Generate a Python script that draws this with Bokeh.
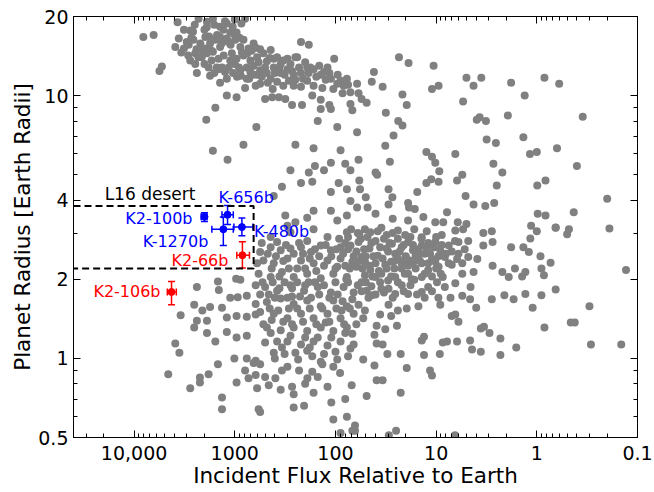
from bokeh.plotting import figure
from bokeh.models import Range1d, FixedTicker, LogAxis, ColumnDataSource, Whisker, TeeHead
from bokeh.embed import file_html
from bokeh.resources import INLINE
from bokeh.core.properties import value

# ---------------- data ----------------
# hot Jupiters / large planets (upper band)
giant_flux = [8100,6400,5300,5600,3700,2770,2290,1890,1650,1400,1250,1050,960,790,3600,3900,3200,2870,2580,2200,
              1960,1760,1560,1400,1200,1100,990,880,820,730,650,2770,2470,2130,1890,1650,1450,1290,1110,960,
              820,700,600,520,440,380,330,280,240,2380,1760,1400,1200,1040,880,760,650,560,480,410,
              350,300,260,220,191,165,140,120,103,89,77,790,620,560,440,380,330,260,220,191,
              165,135,111,96,83,71,1200,960,500,425,365,315,270,215,170,140,115,140,111,71,
              68,220,184,250,178,130,1560,1920,610,820,1650,1180,250,165,89,96,150,280,184,130,
              160,111,80,71,340,220,170,111,93,77,71,410,315,191,165,111,96,77,300,250,
              1960,1700,1340,1070,910,700,580,500,410,350,290,760,600,1250,1510,1820,2130,2470,1400,1110,
              3000,2600,2400,2000,1800,1700,1500,1350,1300,1150,1000,900,850,750,680,620,560,480,450,400,
              360,320,300,270,250,230,210,200,185,155,145,125,115,105,95,85,75,2300,2000,1600,
              1450,1150,1000,950,870,720,660,540,470,420,1900,1600,1200,1000,860,2500,3200,3400,2900,2700]
giant_radius = [16.7,17.0,12.9,12.4,19.0,17.7,19.6,19.1,19.6,18.3,19.2,18.3,17.4,19.6,16.5,15.3,15.1,15.6,16.3,15.8,
                16.7,15.8,16.3,15.3,16.5,15.6,16.3,15.3,16.3,15.1,15.8,13.6,13.2,14.0,14.5,14.7,13.8,14.2,13.6,13.8,
                14.2,13.6,14.0,14.5,14.9,14.0,13.6,13.2,14.0,12.2,11.9,11.2,11.6,12.2,12.5,12.8,13.0,12.5,12.2,12.8,
                13.2,12.6,12.0,12.2,12.8,12.6,12.0,12.8,13.8,11.4,11.6,10.7,10.9,11.1,11.6,11.3,10.9,10.9,10.8,11.4,
                10.9,10.7,11.6,11.1,10.9,10.3,10.0,9.85,9.7,9.85,9.85,9.7,9.2,9.2,10.0,9.65,9.2,8.9,8.9,9.3,
                8.8,16.0,15.6,14.0,12.8,12.3,9.0,8.1,7.6,6.5,6.17,5.7,6.5,6.3,6.2,7.6,8.0,5.2,5.1,5.2,
                5.4,5.55,5.5,5.2,4.5,4.65,4.7,4.3,4.65,4.4,3.97,4.15,3.5,3.43,3.65,3.65,3.35,3.5,3.2,3.3,
                15.1,13.6,12.8,14.5,12.8,12.3,13.4,12.8,13.8,12.2,11.4,11.6,12.0,12.3,12.8,12.8,14.9,14.5,16.7,17.4,
                16.0,17.5,15.0,17.8,16.8,14.8,17.0,15.8,17.8,16.0,17.0,16.6,14.6,14.5,14.8,15.2,15.0,13.5,13.9,12.2,
                12.8,12.0,13.8,12.4,11.5,12.8,11.6,13.4,12.2,11.8,13.0,11.5,12.2,10.6,12.0,10.2,11.0,14.0,13.2,12.2,
                12.6,12.8,13.2,11.8,11.9,11.6,12.0,11.8,11.2,10.6,18.2,18.6,18.8,19.5,18.8,18.6,17.8,14.6,14.2,16.6]

# cooler large planets (upper right)
cool_flux = [23.4,18.8,10.6,41.5,61,43.6,34,59,55,49,21.6,19.6,11.0,9.46,5.0,4.25,3.56,1.80,1.32,0.84,
             0.60,5.4,31.6,23.8,21.6,26.5,32,61,59,28.8,12.5,11.0,10.2,9.3,6.45,3.95,3.7,3.2,3.15,2.55,
             1.94,1.36,1.17,1.0,0.63,0.35,0.40,2.7,2.2,2.5,0.99,0.82,0.2,6.2,5.5,12.5,11.2,9.46,40,38.5,
             58,29.7,27.2,57,50,61,48,40,29.7,27,19.0,15.4,18.6,16.3,13.4,19.0,10.2,8.5,7.8,6.1,
             5.1,4.25,3.25,2.65,0.98,0.82,0.43,5.0,1.14,0.65]
cool_radius = [14.0,13.3,13.0,12.3,11.1,11.3,10.8,10.2,9.7,9.4,10.1,9.2,10.6,10.9,11.7,10.9,11.7,11.2,10.0,11.7,
               11.1,9.5,8.6,8.0,7.7,7.05,6.45,7.25,5.7,5.6,6.1,5.85,5.55,5.15,6.0,8.1,8.27,8.0,6.8,6.6,
               8.4,6.95,6.0,6.1,6.3,8.3,5.4,5.5,5.1,4.55,4.55,4.75,4.05,4.75,5.0,4.65,4.8,4.7,5.1,5.0,
               4.75,4.4,4.1,4.4,4.1,3.75,3.75,3.55,3.85,3.4,3.9,4.3,3.75,3.7,3.45,3.35,3.3,3.3,3.6,3.3,
               4.15,3.85,3.8,3.9,3.55,3.5,3.6,3.25,3.2,3.15]

# small planets, hot side (lower left)
hot_small_flux = [2380,1470,1440,970,880,1110,935,760,620,2530,3450,1760,1340,2100,2380,1890,1200,960,760,620,
                  2530,1890,1560,1200,960,760,3900,3550,4580,2770,2220,2220,1820,1470,1340,1340,960,1010,760,790,
                  730,620,600,560,650,620,500,460,340,410,395,350,270,260,260,205,165,170,190,135,
                  105,69,580,560,105,77,89,68,
                  560,440,350,280,220,175,140,111,89,71,520,410,300,220,165,120,89,68,
                  580,440,340,260,191,140,105,77,500,380,280,205,150,111,83,66,
                  480,350,260,191,140,105,77,410,300,220,165,120,89,66,
                  480,350,260,191,140,105,77,300,220,165,120,89,66,320,235,170,130,96,71,
                  380,191,120,77,280,440,165,96,185,270,125,87,68,68,380,191,
                  600,540,470,430,390,360,330,310,290,260,240,230,210,200,180,160,155,145,130,125,110,100,98,92,84,80,75,
                  620,560,530,460,420,400,360,320,300,270,240,225,200,175,160,145,130,115,100,95,85,75,
                  560,520,450,430,370,330,290,270,240,210,180,155,135,115,98,82,72,
                  500,440,400,340,280,250,200,180,150,140,110,100,80,75,
                  300,230,200,150,120,90,80,110]
hot_small_radius = [1.87,1.96,1.82,2.01,1.99,1.7,1.71,1.73,1.61,1.6,1.46,1.57,1.56,1.52,1.39,1.39,1.43,1.45,1.44,1.47,
                    1.31,1.25,1.16,1.26,1.2,1.22,1.14,1.05,0.87,0.77,0.845,0.81,0.87,0.95,0.71,0.64,0.81,1.0,1.0,0.9,
                    0.84,0.865,0.77,0.95,0.96,0.98,0.85,0.79,0.9,1.05,0.84,0.76,0.78,0.73,0.65,0.66,0.74,0.89,0.84,0.95,
                    0.93,0.79,0.64,0.625,0.585,0.6,0.52,0.53,
                    2.54,2.65,2.58,2.62,2.65,2.54,2.69,2.58,2.65,2.69,2.36,2.3,2.4,2.36,2.3,2.36,2.4,2.33,
                    2.1,2.04,2.13,2.04,2.1,2.02,2.1,2.04,1.87,1.81,1.9,1.81,1.87,1.78,1.87,1.78,
                    1.64,1.69,1.61,1.66,1.58,1.66,1.58,1.48,1.42,1.48,1.42,1.48,1.42,1.48,
                    1.31,1.28,1.31,1.27,1.31,1.27,1.31,1.16,1.13,1.16,1.12,1.16,1.13,1.04,0.99,1.02,1.04,0.99,1.09,
                    2.77,2.8,2.9,3.02,3.02,2.9,3.1,2.23,1.95,1.72,1.37,1.52,1.68,1.24,1.16,1.07,
                    2.3,2.75,2.5,2.2,2.45,2.05,2.35,2.7,2.2,2.5,2.2,2.75,2.5,2.2,2.4,2.6,2.15,2.45,2.25,2.7,2.45,2.2,2.6,2.85,2.5,2.25,2.6,
                    1.9,1.75,1.95,1.75,1.95,1.7,1.85,1.95,1.7,1.85,1.95,1.72,1.9,1.7,1.95,1.75,1.9,1.7,1.95,1.75,1.65,1.95,
                    1.5,1.35,1.55,1.4,1.52,1.38,1.55,1.35,1.55,1.38,1.55,1.35,1.55,1.38,1.55,1.35,1.55,
                    1.15,1.25,1.0,1.1,1.22,1.05,1.2,1.1,1.2,0.97,1.2,1.06,1.25,1.02,
                    0.93,0.9,0.8,0.85,0.78,0.88,0.7,0.68]

# small planets, temperate side (lower right)
warm_small_flux = [51,35,24,16.5,12.4,6.45,5.4,3.4,2.8,1.0,0.48,0.5,0.19,0.65,
                   59,40,27.5,19,13.9,10.2,7.5,6.0,4.8,3.4,2.75,1.8,1.36,1.16,1.2,0.92,
                   55,38,25.5,20.3,15.0,11.0,8.2,6.2,4.8,3.9,2.75,2.2,1.9,1.65,1.4,1.3,0.9,0.85,0.73,0.65,
                   62,45,32,22,17,12,9.46,7.0,5.5,4.25,
                   55,40,29.7,22,16.5,12,9.8,8.2,6.45,4.55,2.8,2.1,1.7,1.3,1.1,0.9,0.84,
                   59,43.6,36,24,19.6,15,13,9.1,7.2,5.5,4.6,4.0,7.0,6.45,6.0,
                   62,53,39,32,24.5,41,39,34,13.2,13.9,8.6,7.8,6.2,4.6,3.35,3.6,2.95,2.3,4.4,3.6,2.3,1.6,
                   53,41,30.5,22.5,19.6,13.2,9.2,11.5,11,39,34,22.5,49,64,64,29.5,25,6.5,
                   0.3,0.46,0.42,0.29,0.145,0.13,
                   58,45,31,20.3,13.9,8.8,46,31,22,17,12.4,9.1,51,28,18.5,13.9,10.2,51,35,25.5,19,13.9,8.6,
                   49,35,25.5,19,13.9,51,29.7,28,
                   60,56,52,48,44,42,38,36,33,30,29,27,26,24,23,21,20,18,17,16,15,14,13,12,11.5,10.5,10,9.5,8.8,8,
                   62,58,54,50,46,43,40,37,34,31,28,26,24,22,20.5,19,17.5,16,14.5,13,12,11,10,9,7.5,7,6.5,6,5.5,5.2,
                   60,55,50,47,44,40,36,33,30,27,24,21,18,15.5,11,9.5,
                   70,75,80,66,72,78]
warm_small_radius = [3.1,3.14,3.07,3.1,3.05,3.07,3.1,3.0,3.05,3.05,3.1,2.97,3.12,3.14,
                     2.77,2.8,2.73,2.77,2.69,2.77,2.69,2.77,2.8,2.69,2.77,2.65,2.65,2.86,2.54,2.45,
                     2.43,2.46,2.5,2.39,2.46,2.39,2.43,2.39,2.43,2.39,2.25,2.13,2.04,2.2,2.05,2.13,2.2,2.07,2.31,1.83,
                     2.23,2.17,2.27,2.2,2.3,2.17,2.23,2.27,2.1,2.13,
                     1.95,2.04,1.84,1.9,1.99,1.87,1.95,1.87,1.93,1.87,1.68,1.74,1.68,1.76,1.56,1.74,1.31,
                     1.6,1.74,1.47,1.52,1.55,1.58,1.7,1.6,1.7,1.73,1.68,1.56,1.45,1.47,1.38,
                     1.35,1.42,1.33,1.29,1.33,1.23,1.14,1.13,1.21,1.17,1.15,1.16,1.16,1.17,1.32,1.3,1.25,1.19,1.08,1.06,1.03,1.1,
                     0.99,0.94,1.04,1.04,0.92,1.03,1.04,0.9,0.86,0.825,0.825,0.74,0.72,0.555,0.53,0.51,0.53,0.51,
                     1.58,1.37,1.37,1.13,1.13,2.17,
                     2.97,3.02,2.95,2.95,2.89,2.95,2.62,2.62,2.65,2.58,2.62,2.58,2.33,2.33,2.36,2.3,2.33,2.07,2.1,2.04,2.1,2.04,2.04,
                     1.81,1.84,1.76,1.76,1.79,1.52,1.6,1.45,
                     3.0,2.85,2.6,2.9,2.75,2.45,3.05,2.65,2.85,2.55,2.75,3.0,2.35,2.85,2.55,2.7,2.45,2.9,2.7,2.45,2.6,2.85,2.5,2.75,2.5,2.65,2.9,2.45,2.7,2.5,
                     2.55,2.35,2.2,2.45,2.25,2.05,2.3,2.15,2.4,2.2,2.05,2.2,2.4,2.3,2.1,2.25,2.0,2.2,2.35,2.1,2.3,2.05,2.2,2.1,2.3,2.55,2.8,2.5,2.3,2.6,
                     1.9,1.8,1.95,1.7,1.88,1.75,1.95,1.78,1.98,1.7,1.95,1.8,1.9,1.75,1.8,1.7,
                     3.1,2.9,2.75,2.45,2.2,2.0]

# highlighted planets
planet_names = ["K2-100b", "K-656b", "K-1270b", "K-480b", "K2-66b", "K2-106b"]
planet_flux = [2000, 1180, 1300, 850, 840, 4250]
planet_flux_lo = [1890, 1035, 1035, 660, 715, 3810]
planet_flux_hi = [2160, 1340, 1690, 1020, 955, 4680]
planet_radius = [3.46, 3.52, 3.10, 3.16, 2.47, 1.79]
planet_radius_lo = [3.32, 3.23, 2.69, 2.93, 2.21, 1.60]
planet_radius_hi = [3.58, 3.82, 3.45, 3.42, 2.78, 1.96]
planet_colors = ["#0000ff", "#0000ff", "#0000ff", "#0000ff", "#ff0000", "#ff0000"]

# L16 desert boundaries
desert_flux_min = 650
desert_radius_lo = 2.2
desert_radius_hi = 3.8
desert_label = "L16 desert"

x_major = [10000, 1000, 100, 10, 1, 0.1]
x_labels = ["10,000", "1000", "100", "10", "1", "0.1"]
y_major = [0.5, 1, 2, 4, 10, 20]
y_labels = ["0.5", "1", "2", "4", "10", "20"]

X_MAX, X_MIN = 40000, 0.1
Y_MIN, Y_MAX = 0.5, 20

# ---------------- figure ----------------
FONT = "DejaVu Sans"
p = figure(width=654, height=492, x_axis_type="log", y_axis_type="log",
           x_range=Range1d(X_MAX, X_MIN), y_range=Range1d(Y_MIN, Y_MAX),
           output_backend="svg", toolbar_location=None,
           min_border_left=73, min_border_right=17, min_border_top=16, min_border_bottom=55)
p.grid.visible = False
p.outline_line_color = "black"
p.outline_line_width = 1
p.background_fill_color = "white"
p.border_fill_color = "white"

x_minor = [m * 10.0 ** e for e in range(-1, 5) for m in range(2, 10) if m * 10.0 ** e <= X_MAX]
y_minor = [0.6, 0.7, 0.8, 0.9, 3, 5, 6, 7, 8, 9]

def style_axis(ax, ticks, minor, labels, show, standoff=5):
    ax.ticker = FixedTicker(ticks=ticks, minor_ticks=minor)
    ax.major_tick_in = 7
    ax.major_tick_out = 0
    ax.minor_tick_in = 4
    ax.minor_tick_out = 0
    ax.axis_line_color = "black"
    ax.major_tick_line_color = "black"
    ax.minor_tick_line_color = "black"
    if show:
        ax.major_label_overrides = {t: l for t, l in zip(ticks, labels)}
        ax.major_label_text_font = FONT
        ax.major_label_text_font_size = "19px"
        ax.major_label_text_color = "black"
        ax.major_label_standoff = standoff
        ax.axis_label_text_font = FONT
        ax.axis_label_text_font_size = "21.5px"
        ax.axis_label_text_font_style = "normal"
        ax.axis_label_text_color = "black"
        ax.axis_label_standoff = 0
    else:
        ax.major_label_overrides = {t: " " for t in ticks}
        ax.major_label_text_font_size = "1px"
        ax.major_label_text_alpha = 0
        ax.major_label_standoff = 0

style_axis(p.xaxis[0], x_major, x_minor, x_labels, True, standoff=8)
style_axis(p.yaxis[0], y_major, y_minor, y_labels, True, standoff=5)
p.xaxis[0].axis_label = "Incident Flux Relative to Earth"
p.yaxis[0].axis_label = "Planet Radius [Earth Radii]"

top_ax = LogAxis()
style_axis(top_ax, x_major, x_minor, x_labels, False)
p.add_layout(top_ax, "above")
right_ax = LogAxis()
style_axis(right_ax, y_major, y_minor, y_labels, False)
p.add_layout(right_ax, "right")

# background population
for fx, ry in [(giant_flux, giant_radius), (cool_flux, cool_radius),
               (hot_small_flux, hot_small_radius), (warm_small_flux, warm_small_radius)]:
    p.scatter(fx, ry, size=8, fill_color="#808080", line_color="#808080", line_width=0)

# desert box
p.line([X_MAX, desert_flux_min, desert_flux_min, X_MAX],
       [desert_radius_hi, desert_radius_hi, desert_radius_lo, desert_radius_lo],
       line_color="black", line_width=2, line_dash="7 4")
p.text(x=[desert_flux_min], y=[desert_radius_hi], text=[desert_label],
       x_offset=-149, y_offset=-12, text_align="left", text_baseline="middle",
       text_font=value(FONT), text_font_size="17px", text_color="black")

# highlighted planets with error bars
src = ColumnDataSource(dict(name=planet_names, f=planet_flux, flo=planet_flux_lo, fhi=planet_flux_hi,
                            r=planet_radius, rlo=planet_radius_lo, rhi=planet_radius_hi, c=planet_colors,
                            xo=[-12, -9, -15, 12, -14, -11], yo=[2, -17, 12, 4, 5, 0],
                            al=["right", "left", "right", "left", "right", "right"]))
for col in ["#0000ff", "#ff0000"]:
    idx = [i for i, c in enumerate(planet_colors) if c == col]
    s = ColumnDataSource({k: [v[i] for i in idx] for k, v in src.data.items()})
    p.add_layout(Whisker(source=s, base="f", lower="rlo", upper="rhi", dimension="height",
                         line_color=col, line_width=1.5,
                         upper_head=TeeHead(size=7, line_color=col, line_width=1.5),
                         lower_head=TeeHead(size=7, line_color=col, line_width=1.5)))
    p.add_layout(Whisker(source=s, base="r", lower="flo", upper="fhi", dimension="width",
                         line_color=col, line_width=1.5,
                         upper_head=TeeHead(size=7, line_color=col, line_width=1.5),
                         lower_head=TeeHead(size=7, line_color=col, line_width=1.5)))
p.scatter("f", "r", source=src, size=7, fill_color="c", line_color="c")
p.text("f", "r", text="name", source=src, x_offset="xo", y_offset="yo", text_align="al",
       text_baseline="middle", text_color="c", text_font=value(FONT), text_font_size="16px")

open("out.html", "w").write(file_html(p, INLINE))
